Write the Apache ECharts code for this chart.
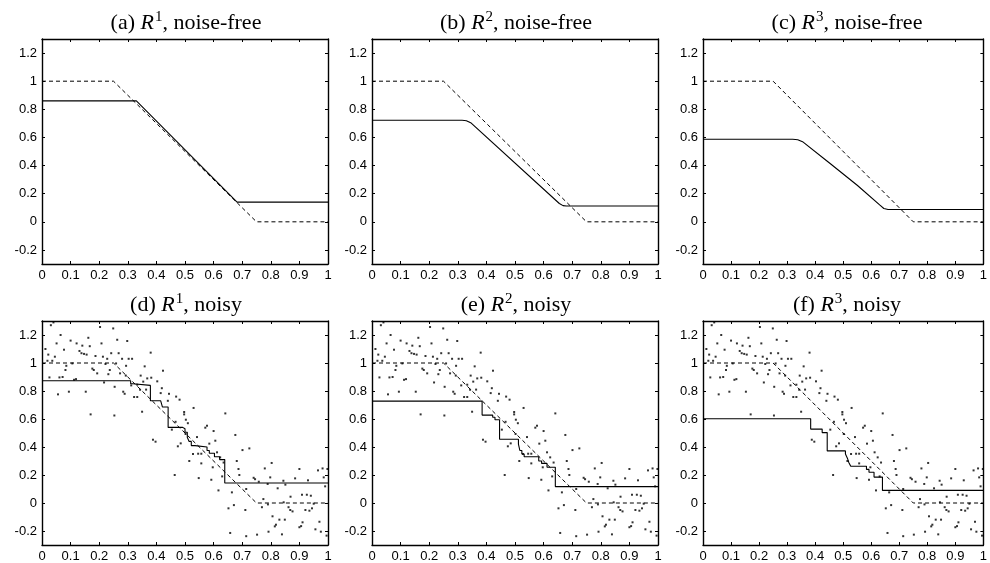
<!DOCTYPE html>
<html>
<head>
<meta charset="utf-8">
<script src="https://cdn.jsdelivr.net/npm/echarts@6/dist/echarts.min.js"></script>
<style>html,body{margin:0;padding:0;background:#fff}#c{width:990px;height:563px}</style>
</head>
<body>
<div id="c"></div>
<script>
// ---- data ----
const titles = [
  '(a) {i|R}{s|1}, noise-free', '(b) {i|R}{s|2}, noise-free', '(c) {i|R}{s|3}, noise-free',
  '(d) {i|R}{s|1}, noisy', '(e) {i|R}{s|2}, noisy', '(f) {i|R}{s|3}, noisy'
];
const yTicks = [-0.2, 0, 0.2, 0.4, 0.6, 0.8, 1, 1.2];
const trueFn = [[0, 1], [0.25, 1], [0.75, 0], [1, 0]];
const fitR1 = [[0, 0.86], [0.33, 0.86], [0.682, 0.14], [1, 0.14]];
const fitR2 = [[0, 0.722], [0.315, 0.722], [0.33, 0.719], [0.345, 0.705], [0.655, 0.13], [0.668, 0.115], [0.68, 0.112], [1, 0.112]];
const fitR3 = [[0, 0.587], [0.32, 0.587], [0.338, 0.584], [0.355, 0.57], [0.45, 0.42], [0.55, 0.26], [0.63, 0.12], [0.645, 0.095], [0.66, 0.088], [1, 0.088]];
const stepR1 = [[0,0.873],[0.31,0.873],[0.31,0.852],[0.318,0.852],[0.318,0.84],[0.379,0.84],[0.379,0.73],[0.415,0.73],[0.415,0.718],[0.421,0.718],[0.421,0.686],[0.441,0.686],[0.441,0.54],[0.492,0.54],[0.492,0.53],[0.5,0.53],[0.5,0.505],[0.508,0.505],[0.508,0.47],[0.514,0.47],[0.514,0.44],[0.522,0.44],[0.522,0.41],[0.535,0.41],[0.535,0.40],[0.577,0.40],[0.577,0.375],[0.585,0.375],[0.585,0.355],[0.603,0.355],[0.603,0.33],[0.621,0.33],[0.621,0.31],[0.639,0.31],[0.639,0.143],[1,0.143]];
const stepR2 = [[0,0.728],[0.385,0.728],[0.385,0.628],[0.422,0.628],[0.422,0.612],[0.43,0.612],[0.43,0.595],[0.446,0.595],[0.446,0.455],[0.512,0.455],[0.512,0.42],[0.517,0.42],[0.517,0.375],[0.524,0.375],[0.524,0.35],[0.532,0.35],[0.532,0.33],[0.583,0.33],[0.583,0.3],[0.593,0.3],[0.593,0.283],[0.612,0.283],[0.612,0.255],[0.641,0.255],[0.641,0.117],[1,0.117]];
const stepR3 = [[0,0.602],[0.384,0.602],[0.384,0.528],[0.425,0.528],[0.425,0.503],[0.443,0.503],[0.443,0.372],[0.508,0.372],[0.508,0.35],[0.515,0.35],[0.515,0.32],[0.52,0.32],[0.52,0.29],[0.527,0.29],[0.527,0.262],[0.583,0.262],[0.583,0.24],[0.592,0.24],[0.592,0.22],[0.61,0.22],[0.61,0.185],[0.64,0.185],[0.64,0.09],[1,0.09]];
const noisyPts = [
  [0.012,1.10],[0.019,1.016],[0.022,1.06],[0.026,0.897],[0.031,1.27],[0.036,1.016],[0.040,1.29],[0.045,1.045],
  [0.051,1.14],[0.056,0.776],[0.061,0.897],[0.065,1.20],[0.072,0.90],[0.077,1.095],[0.082,0.95],[0.085,0.98],
  [0.094,0.795],[0.100,1.16],[0.106,0.997],[0.112,0.88],[0.119,0.885],[0.121,1.14],[0.131,1.086],[0.138,1.07],
  [0.141,1.124],[0.147,1.065],[0.153,0.795],[0.156,1.06],[0.162,1.18],[0.167,1.12],[0.17,0.633],[0.176,0.96],
  [0.181,0.95],[0.187,1.05],[0.193,0.926],[0.203,1.257],[0.208,1.14],[0.213,1.045],[0.217,0.861],[0.222,0.993],
  [0.228,1.03],[0.232,0.92],[0.237,0.95],[0.242,1.07],[0.249,1.247],[0.253,0.625],[0.254,0.83],
  [0.259,0.997],[0.263,1.166],[0.268,1.07],[0.273,0.926],[0.280,1.03],[0.284,0.795],[0.289,0.78],[0.293,0.91],
  [0.294,0.98],[0.298,1.157],[0.303,1.03],[0.312,0.84],[0.315,1.03],[0.322,0.757],[0.333,0.757],[0.333,0.845],
  [0.343,0.809],[0.345,0.91],[0.350,0.652],[0.354,0.867],[0.359,0.976],[0.364,0.81],[0.368,0.89],[0.38,1.074],
  [0.382,0.895],[0.388,0.452],[0.397,0.438],[0.403,0.869],[0.415,0.785],[0.419,0.82],[0.423,0.945],[0.44,0.73],
  [0.444,0.78],[0.454,0.524],[0.464,0.20],[0.467,0.58],[0.469,0.76],[0.475,0.405],[0.481,0.738],[0.485,0.426],
  [0.497,0.65],[0.497,0.633],[0.502,0.493],[0.503,0.595],[0.51,0.57],
  [0.515,0.30],[0.528,0.35],[0.53,0.679],[0.542,0.471],[0.546,0.352],[0.548,0.178],[0.557,0.352],[0.557,0.283],
  [0.571,0.538],[0.577,0.552],[0.585,0.424],[0.592,0.166],[0.597,0.255],[0.60,0.514],[0.606,0.445],[0.612,0.362],
  [0.617,0.09],[0.623,0.326],[0.63,0.19],[0.635,0.289],[0.641,0.64],[0.652,-0.038],[0.658,-0.214],[0.664,0.076],
  [0.671,-0.015],[0.676,0.486],[0.681,0.30],[0.687,0.243],[0.69,0.20],[0.701,0.378],[0.711,-0.05],[0.714,-0.237],
  [0.714,0.10],[0.725,0.39],[0.74,0.18],[0.745,0.17],[0.752,-0.226],[0.758,0.152],
  [0.769,-0.03],[0.774,0.028],[0.779,0.247],[0.789,0.136],[0.79,-0.01],[0.792,-0.205],[0.798,0.183],[0.803,0.286],
  [0.806,-0.095],[0.814,-0.167],[0.818,-0.155],[0.824,0.105],[0.83,-0.119],[0.839,-0.224],[0.844,0.159],[0.845,0.005],
  [0.849,-0.119],[0.851,0.131],[0.862,-0.03],[0.868,-0.05],[0.869,0.045],[0.876,-0.06],[0.885,0.176],[0.90,0.243],
  [0.90,-0.173],[0.906,-0.165],[0.909,0.059],[0.911,-0.138],[0.921,-0.05],[0.926,0.059],[0.93,0.162],[0.935,-0.055],
  [0.94,0.052],[0.944,-0.038],[0.95,-0.005],[0.956,-0.188],[0.965,0.233],[0.97,-0.134],[0.975,-0.205],[0.981,0.247],
  [0.985,0.183],[0.99,0.119],[0.995,-0.233],[0.998,0.243]
];

// ---- layout ----
const lefts = [42, 372, 703];
const W = 286;
const tops = [39, 321];
const H = 225;

const fits = [fitR1, fitR2, fitR3];
const steps = [stepR1, stepR2, stepR3];

const grid = [], xAxis = [], yAxis = [], series = [], title = [];
const black = '#000';
const lineW = 1.4;
const labelFont = { color: black, fontFamily: 'Liberation Sans, Arial, sans-serif', fontSize: 13 };

for (let r = 0; r < 2; r++) {
  for (let c = 0; c < 3; c++) {
    const g = r * 3 + c;
    grid.push({ left: lefts[c], top: tops[r], width: W, height: H });
    title.push({
      text: titles[g],
      left: lefts[c] + W / 2 - 4,
      top: r === 0 ? 5 : 287,
      textAlign: 'center',
      textStyle: {
        fontFamily: 'Liberation Serif, Times New Roman, serif', fontSize: 22, fontWeight: 'normal', color: black,
        rich: {
          i: { fontFamily: 'Liberation Serif, serif', fontSize: 22, fontStyle: 'italic', color: black },
          s: { fontFamily: 'Liberation Serif, serif', fontSize: 15, color: black, padding: [0, 0, 12, 1] }
        }
      }
    });
    const baseX = {
      type: 'value', gridIndex: g, min: 0, max: 1, interval: 0.1,
      splitLine: { show: false },
      axisLine: { show: true, onZero: false, lineStyle: { color: black, width: lineW } },
      axisTick: { show: true, inside: true, length: 3, lineStyle: { color: black, width: 1 } }
    };
    xAxis.push(Object.assign({}, baseX, {
      position: 'bottom',
      axisLabel: Object.assign({ margin: 5 }, labelFont)
    }));
    xAxis.push(Object.assign({}, baseX, { position: 'top', axisLabel: { show: false } }));
    const baseY = {
      type: 'value', gridIndex: g, min: -0.3, max: 1.3, interval: 0.1,
      splitLine: { show: false },
      axisLine: { show: true, onZero: false, lineStyle: { color: black, width: lineW } },
      axisTick: { show: true, inside: true, length: 3, customValues: yTicks, lineStyle: { color: black, width: 1 } }
    };
    yAxis.push(Object.assign({}, baseY, {
      position: 'left',
      axisLabel: Object.assign({ margin: 5, customValues: yTicks }, labelFont)
    }));
    yAxis.push(Object.assign({}, baseY, { position: 'right', axisLabel: { show: false } }));

    const xi = g * 2, yi = g * 2;
    if (r === 1) {
      series.push({
        type: 'scatter', xAxisIndex: xi, yAxisIndex: yi, data: noisyPts,
        symbol: 'rect', symbolSize: 2, itemStyle: { color: '#000' }, silent: true
      });
    }
    series.push({
      type: 'line', xAxisIndex: xi, yAxisIndex: yi, data: trueFn, showSymbol: false, silent: true,
      lineStyle: { color: black, width: 1, type: [4, 3] }
    });
    series.push({
      type: 'line', xAxisIndex: xi, yAxisIndex: yi, data: r === 0 ? fits[c] : steps[c], showSymbol: false, silent: true,
      lineStyle: { color: black, width: 1.1 }
    });
  }
}

const chart = echarts.init(document.getElementById('c'), null, { renderer: 'canvas' });
chart.setOption({ animation: false, backgroundColor: '#fff', title, grid, xAxis, yAxis, series });
</script>
</body>
</html>
